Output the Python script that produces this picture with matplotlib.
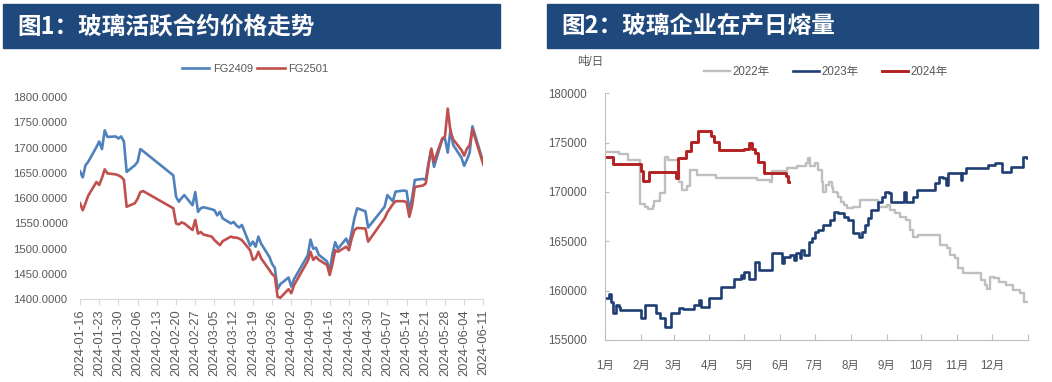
import pandas as pd
import matplotlib.pyplot as plt
import matplotlib.dates as mdates
from matplotlib.patches import Rectangle

plt.rcParams['font.family'] = ['Liberation Sans', 'Noto Sans CJK SC']

# 图1 数据：玻璃活跃合约收盘价
dates = ['2024-01-16', '2024-01-17', '2024-01-18', '2024-01-19', '2024-01-22', '2024-01-23',
         '2024-01-24', '2024-01-25', '2024-01-26', '2024-01-29', '2024-01-30', '2024-01-31',
         '2024-02-01', '2024-02-02', '2024-02-05', '2024-02-06', '2024-02-07', '2024-02-08',
         '2024-02-19', '2024-02-20', '2024-02-21', '2024-02-22', '2024-02-23', '2024-02-26',
         '2024-02-27', '2024-02-28', '2024-02-29', '2024-03-01', '2024-03-04', '2024-03-05',
         '2024-03-06', '2024-03-07', '2024-03-08', '2024-03-11', '2024-03-12', '2024-03-13',
         '2024-03-14', '2024-03-15', '2024-03-18', '2024-03-19', '2024-03-20', '2024-03-21',
         '2024-03-22', '2024-03-25', '2024-03-26', '2024-03-27', '2024-03-28', '2024-03-29',
         '2024-04-01', '2024-04-02', '2024-04-03', '2024-04-08', '2024-04-09', '2024-04-10',
         '2024-04-11', '2024-04-12', '2024-04-15', '2024-04-16', '2024-04-17', '2024-04-18',
         '2024-04-19', '2024-04-22', '2024-04-23', '2024-04-24', '2024-04-25', '2024-04-26',
         '2024-04-29', '2024-04-30', '2024-05-06', '2024-05-07', '2024-05-08', '2024-05-09',
         '2024-05-10', '2024-05-13', '2024-05-14', '2024-05-15', '2024-05-16', '2024-05-17',
         '2024-05-20', '2024-05-21', '2024-05-22', '2024-05-23', '2024-05-24', '2024-05-27',
         '2024-05-28', '2024-05-29', '2024-05-30', '2024-05-31', '2024-06-03', '2024-06-04',
         '2024-06-05', '2024-06-06', '2024-06-07', '2024-06-11']
fg2409 = [1653, 1641, 1665, 1672, 1701, 1712, 1697, 1734, 1721, 1722, 1718, 1722,
          1712, 1652, 1665, 1672, 1697, 1693, 1645, 1603, 1593, 1600, 1606, 1586,
          1612, 1573, 1580, 1582, 1578, 1576, 1566, 1573, 1560, 1550, 1553, 1546,
          1542, 1547, 1506, 1514, 1504, 1524, 1510, 1484, 1470, 1462, 1420, 1430,
          1443, 1425, 1440, 1487, 1518, 1500, 1502, 1488, 1475, 1455, 1490, 1513,
          1500, 1520, 1507, 1533, 1560, 1580, 1574, 1542, 1583, 1606, 1600, 1594,
          1613, 1615, 1614, 1577, 1600, 1636, 1638, 1636, 1670, 1695, 1662, 1716,
          1718, 1690, 1735, 1705, 1680, 1664, 1676, 1690, 1742, 1670]
fg2501 = [1590, 1576, 1590, 1605, 1632, 1626, 1640, 1657, 1649, 1647, 1645, 1642,
          1636, 1583, 1590, 1599, 1612, 1614, 1580, 1550, 1548, 1552, 1550, 1537,
          1557, 1530, 1533, 1528, 1524, 1517, 1512, 1507, 1515, 1524, 1522, 1522,
          1520, 1517, 1497, 1478, 1481, 1494, 1481, 1458, 1450, 1445, 1405, 1403,
          1420, 1412, 1428, 1476, 1494, 1478, 1484, 1478, 1468, 1448, 1470, 1497,
          1494, 1504, 1497, 1520, 1537, 1541, 1540, 1514, 1560, 1572, 1580, 1588,
          1594, 1594, 1592, 1563, 1585, 1622, 1625, 1629, 1665, 1698, 1672, 1718,
          1722, 1777, 1732, 1716, 1695, 1684, 1698, 1705, 1736, 1666]

# 图2 数据：日熔量（年内第几天, 吨/日），阶梯变化点
doy_2022 = [0, 12, 20, 30, 34, 37, 41, 42, 47, 52, 54, 64, 66, 71, 73, 79, 96, 131, 142, 144,
            157, 166, 173, 175, 177, 181, 184, 187, 188, 191, 193, 196, 197, 200, 201, 204,
            206, 209, 214, 220, 236, 243, 246, 250, 255, 260, 263, 266, 270, 289, 295, 298,
            302, 305, 309, 325, 328, 330, 332, 336, 340, 346, 352, 358, 362, 364]
val_2022 = [174100, 173800, 173200, 168800, 168500, 168300, 168600, 169100, 169900, 173500,
            173200, 171000, 170200, 170600, 172200, 171700, 171400, 171200, 171050, 172100,
            172400, 172600, 172900, 173400, 172600, 172900, 172240, 171050, 170040, 170720,
            171050, 170550, 170040, 169880, 169540, 169030, 168690, 168350, 168520, 169200,
            168520, 168690, 168180, 167850, 167500, 167170, 166150, 165480, 165650, 164630,
            164300, 163620, 163280, 162270, 161760, 161080, 160580, 160140, 161420, 161250,
            160910, 160580, 160070, 159730, 158880, 158880]
doy_2023 = [0, 3, 5, 7, 9, 12, 13, 31, 34, 44, 47, 52, 57, 64, 67, 77, 81, 83, 90, 100, 111,
            117, 119, 120, 124, 129, 133, 144, 153, 154, 160, 163, 165, 168, 169, 172, 176,
            179, 181, 184, 188, 194, 198, 201, 206, 210, 214, 219, 222, 224, 227, 230, 236,
            239, 242, 245, 247, 258, 260, 266, 269, 285, 288, 292, 294, 296, 307, 308, 312,
            331, 337, 343, 351, 361, 364]
val_2023 = [159230, 159660, 158880, 157700, 158550, 158380, 158040, 157200, 158550, 157700,
            157200, 156350, 157700, 158210, 158100, 158550, 159060, 158380, 159230, 160400,
            161190, 161590, 161250, 161930, 161150, 162940, 162100, 163790, 162780, 163450,
            163620, 163110, 163790, 163280, 164130, 163620, 164970, 165310, 165980, 166150,
            166660, 167170, 168010, 167850, 167500, 167170, 165820, 165480, 165980, 166660,
            167340, 168180, 169030, 169540, 170040, 169880, 169030, 170040, 169030, 169540,
            170200, 170890, 171560, 171390, 170720, 171900, 171220, 171900, 172410, 172750,
            172920, 172070, 172580, 173590, 173400]
doy_2024 = [0, 7, 31, 33, 38, 61, 63, 70, 74, 80, 91, 94, 98, 120, 124, 127, 129, 132, 137,
            156, 158, 159]
val_2024 = [173500, 172850, 172100, 171100, 172000, 171400, 173400, 174200, 175100, 176150,
            175700, 175100, 174300, 174400, 175000, 174400, 173900, 173000, 171900, 171600,
            171000, 171000]
month_starts = [0, 31, 59, 90, 120, 151, 181, 212, 243, 273, 304, 334, 365]
month_labels = ['1月', '2月', '3月', '4月', '5月', '6月', '7月', '8月', '9月', '10月', '11月', '12月']

W, H = 1052, 382
fig = plt.figure(figsize=(W / 100, H / 100), dpi=100)


def px_axes(x0, y0, x1, y1):
    return fig.add_axes([x0 / W, 1 - y1 / H, (x1 - x0) / W, (y1 - y0) / H])


# 标题栏
title_color = '#1F497D'
for x0, x1, txt in [(3, 500, '图1：玻璃活跃合约价格走势'), (547, 1038, '图2：玻璃企业在产日熔量')]:
    fig.patches.append(Rectangle((x0 / W, 1 - 48 / H), (x1 - x0) / W, 44 / H,
                                 transform=fig.transFigure, color=title_color))
    fig.text((x0 + 14) / W, 1 - 26.5 / H, txt, color='white', fontsize=17, fontweight='bold',
             family=['Noto Sans CJK SC'], va='center', ha='left')

tick_color = '#595959'

# 图1
ax1 = px_axes(80, 97, 483.4, 299.3)
d = pd.to_datetime(dates)
ax1.plot(d, fg2409, color='#4F81BD', lw=1.9, label='FG2409')
ax1.plot(d, fg2501, color='#C0504D', lw=1.9, label='FG2501')
ax1.set_ylim(1400, 1800)
ax1.set_yticks(range(1400, 1801, 50))
ax1.set_yticklabels(['%.4f' % v for v in range(1400, 1801, 50)])
xt = pd.date_range('2024-01-16', '2024-06-11', freq='7D')
ax1.set_xlim(xt[0], xt[-1])
ax1.set_xticks(xt)
ax1.set_xticklabels([t.strftime('%Y-%m-%d') for t in xt], rotation=90)
for s in ['left', 'top', 'right']:
    ax1.spines[s].set_visible(False)
ax1.spines['bottom'].set_color('#D9D9D9')
ax1.tick_params(axis='y', length=0, labelsize=8.2, labelcolor=tick_color, pad=9)
ax1.tick_params(axis='x', length=4, color='#D9D9D9', labelsize=9.3, labelcolor=tick_color, pad=3)
ax1.legend(loc='center', bbox_to_anchor=(255 / W, 1 - 68.5 / H), bbox_transform=fig.transFigure,
           ncol=2, frameon=False, fontsize=8, labelcolor=tick_color, handlelength=2.5,
           handletextpad=0.3, columnspacing=0.4)

# 图2
ax2 = px_axes(605.3, 93.3, 1027.7, 340)
ax2.step(doy_2022, val_2022, where='post', color='#BFBFBF', lw=1.7, label='2022年')
ax2.step(doy_2023, val_2023, where='post', color='#1F3F74', lw=1.9, label='2023年')
ax2.step(doy_2024, val_2024, where='post', color='#B22222', lw=2.1, label='2024年')
ax2.set_xlim(0, 365)
ax2.set_ylim(155000, 180000)
ax2.set_yticks(range(155000, 180001, 5000))
ax2.set_xticks(month_starts)
ax2.set_xticklabels(month_labels + [''])
for s in ['top', 'right']:
    ax2.spines[s].set_visible(False)
for s in ['left', 'bottom']:
    ax2.spines[s].set_color('#BFBFBF')
ax2.tick_params(axis='y', length=3, direction='in', color='#BFBFBF', labelsize=8.3,
                labelcolor=tick_color, pad=13)
ax2.tick_params(axis='x', length=4, direction='in', color='#BFBFBF', labelsize=8.3,
                labelcolor=tick_color, pad=14)
fig.text(590 / W, 1 - 62 / H, '吨/日', fontsize=8.3, color=tick_color, ha='center', va='center')
ax2.legend(loc='center', bbox_to_anchor=(826 / W, 1 - 72.5 / H), bbox_transform=fig.transFigure,
           ncol=3, frameon=False, fontsize=8.3, labelcolor=tick_color, handlelength=2.3,
           handletextpad=0.2, columnspacing=2.0)

plt.savefig('out.png', dpi=100)
